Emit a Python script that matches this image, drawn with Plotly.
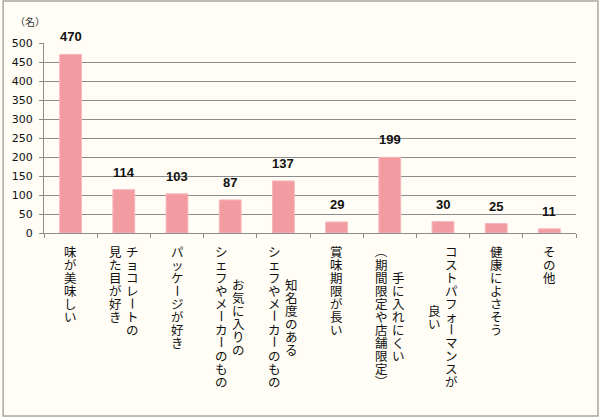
import plotly.graph_objects as go

# answers (名)
categories = ["味が美味しい", "チョコレートの見た目が好き", "パッケージが好き",
              "お気に入りのシェフやメーカーのもの", "知名度のあるシェフやメーカーのもの",
              "賞味期限が長い", "手に入れにくい（期間限定や店舗限定）",
              "コストパフォーマンスが良い", "健康によさそう", "その他"]
label_lines = [["味が美味しい"],
               ["チョコレートの", "見た目が好き"],
               ["パッケージが好き"],
               ["お気に入りの", "シェフやメーカーのもの"],
               ["知名度のある", "シェフやメーカーのもの"],
               ["賞味期限が長い"],
               ["手に入れにくい", "（期間限定や店舗限定）"],
               ["コストパフォーマンスが", "良い"],
               ["健康によさそう"],
               ["その他"]]
label_centered = [False, False, False, True, True, False, True, True, False, False]
values = [470, 114, 103, 87, 137, 29, 199, 30, 25, 11]
y_ticks = list(range(0, 501, 50))

W, H = 600, 418
L, R, T, B = 42, 24, 43, 185
pw, ph = W - L - R, H - T - B

GRID = "#8c8c8c"
JP = "Noto Sans CJK JP"

fig = go.Figure(go.Bar(
    x=categories, y=values,
    marker=dict(color="#f29ca2", line=dict(color="#f6b6ba", width=1)),
    width=0.41,
    hoverinfo="skip",
))

annotations = []
# value labels above the bars
for c, v in zip(categories, values):
    annotations.append(dict(
        x=c, y=v, xref="x", yref="y", yanchor="bottom", yshift=8,
        text="<b>%d</b>" % v, showarrow=False,
        font=dict(family="Liberation Sans", size=13, color="#111111"),
    ))

# vertical Japanese labels: runs of stacked characters, long-vowel marks and
# brackets turned on their side like in vertical writing
step = 13.0
glyph = 12.5
rotate = set("ー（）")


def add_run(i, xshift, y0, k, chars, angle):
    mid = y0 + (k + len(chars) / 2) * step
    text = "<br>".join("<span style='font-size:%spx'>%s</span>" % (glyph, c) for c in chars)
    annotations.append(dict(
        x=categories[i], xref="x", y=0, yref="paper",
        yanchor="middle", xanchor="center", xshift=xshift, yshift=-mid,
        text=text, showarrow=False, textangle=angle, borderpad=0,
        font=dict(family=JP, size=step / 1.3, color="#111111"),
    ))


for i, lines in enumerate(label_lines):
    n = len(lines)
    longest = max(len(s) for s in lines)
    for j, line in enumerate(lines):
        xshift = (n - 1) * 8.5 - j * 17  # first line on the right
        y0 = 12
        if label_centered[i]:
            y0 += (longest - len(line)) / 2 * step
        run, start = "", 0
        for k, ch in enumerate(line):
            if ch in rotate:
                if run:
                    add_run(i, xshift, y0, start, run, 0)
                add_run(i, xshift, y0, k, ch, 90)
                run, start = "", k + 1
            else:
                run += ch
        if run:
            add_run(i, xshift, y0, start, run, 0)

annotations.append(dict(
    x=(28 - L) / pw, xref="paper", y=(H - B - 21) / ph, yref="paper",
    text="（名）", showarrow=False, xanchor="center", yanchor="middle",
    font=dict(family=JP, size=10, color="#333333"),
))

fig.update_layout(
    width=W, height=H,
    margin=dict(l=L, r=R, t=T, b=B),
    paper_bgcolor="#fffdf5", plot_bgcolor="#fffdf5",
    showlegend=False,
    bargap=0.59,
    annotations=annotations,
    shapes=[dict(type="rect", xref="paper", yref="paper",
                 x0=(1 - L) / pw, x1=(598 - L) / pw,
                 y0=(H - B - 416) / ph, y1=(H - B - 1) / ph,
                 line=dict(color="#a8a8a4", width=1.5))],
)
fig.update_xaxes(showticklabels=False, showline=True, linecolor=GRID, linewidth=1,
                 ticks="outside", tickson="boundaries", ticklen=4, tickcolor=GRID,
                 showgrid=False)
fig.update_yaxes(range=[0, 500], tickvals=y_ticks, showline=True, linecolor=GRID,
                 linewidth=1, showgrid=True, gridcolor=GRID, gridwidth=1,
                 ticks="outside", ticklen=4, tickcolor=GRID, zeroline=False,
                 ticklabelstandoff=4,
                 tickfont=dict(family="DejaVu Sans", size=11, color="#111111"))

# page body has a default 8px margin; drop it so the figure fills the window
fig.write_html("out.html", config={"displayModeBar": False},
               post_script="document.body.style.margin='0';")
